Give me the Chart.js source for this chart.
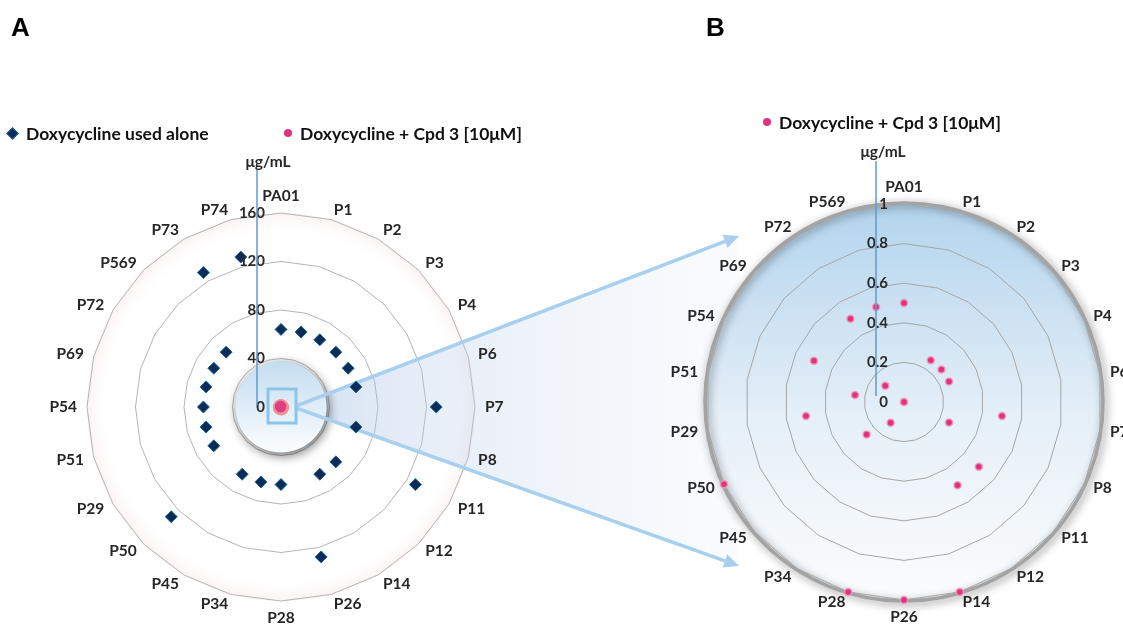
<!DOCTYPE html>
<html>
<head>
<meta charset="utf-8">
<script src="https://cdn.jsdelivr.net/npm/chart.js@4.4.0/dist/chart.umd.min.js"></script>
<style>
  html, body { margin: 0; padding: 0; background: #fff; overflow: hidden; }
  #wrap { position: relative; width: 1123px; height: 628px; }
  canvas { position: absolute; left: 0; top: 0; }
  .panel { position: absolute; font: bold 26px 'Liberation Sans', Arial, sans-serif; color: #000; line-height: 26px; }
  .legend { position: absolute; height: 20px; display: flex; align-items: center; white-space: nowrap;
            font: bold 17.5px Lato, 'Open Sans', sans-serif; color: #111; }
  .diamond { width: 7px; height: 7px; background: #0d2b58; border: 1px solid #1b6d96; transform: rotate(45deg); margin-right: 9px; }
  .dot { width: 8px; height: 8px; border-radius: 50%; background: #e2327f; margin-right: 8px; }
</style>
</head>
<body>
<div id="wrap">
  <canvas id="chartA" width="1123" height="628"></canvas>
  <canvas id="chartB" width="1123" height="628"></canvas>
  <div class="panel" style="left:11px; top:14px;">A</div>
  <div class="panel" style="left:706px; top:14px;">B</div>
  <div class="legend" style="left:8px; top:123px;"><span class="diamond"></span>Doxycycline used alone</div>
  <div class="legend" style="left:284px; top:123px;"><span class="dot"></span>Doxycycline + Cpd 3 [10μM]</div>
  <div class="legend" style="left:763px; top:112px;"><span class="dot"></span>Doxycycline + Cpd 3 [10μM]</div>
</div>
<script>
// strains shown in panel A (24) and panel B (22)
const categoriesA = ['PA01', 'P1', 'P2', 'P3', 'P4', 'P6', 'P7', 'P8', 'P11', 'P12', 'P14', 'P26',
                     'P28', 'P34', 'P45', 'P50', 'P29', 'P51', 'P54', 'P69', 'P72', 'P569', 'P73', 'P74'];
const categoriesB = ['PA01', 'P1', 'P2', 'P3', 'P4', 'P6', 'P7', 'P8', 'P11', 'P12', 'P14', 'P26',
                     'P28', 'P34', 'P45', 'P50', 'P29', 'P51', 'P54', 'P69', 'P72', 'P569'];

// MIC values, ug/mL
const doxyAlone = [64, 64, 64, 64, 64, 64, 128, 64, 128, 64, 64, 128,
                   64, 64, 64, 128, 64, 64, 64, 64, 64, 64, 128, 128];
const doxyCpd3 = [0.5, 0, 0.25, 0.25, 0.25, 0, 0.5, 0.25, 0.5, 0.5, 1, 1,
                  1, 0.125, 0.25, 1, 0.5, 0.25, 0.5, 0.125, 0.5, 0.5];

// axis ticks
const ticksA = [0, 40, 80, 120, 160];
const ticksB = [0, 0.2, 0.4, 0.6, 0.8, 1];

const comboA = categoriesA.map(c => {
    const i = categoriesB.indexOf(c);
    return i < 0 ? null : doxyCpd3[i];
});

const labelFont = 'bold 15.5px Lato, "Open Sans", sans-serif';
const tickFont = 'bold 15px Lato, "Open Sans", sans-serif';

// labels, tick values, blue axis line and unit title
function drawAxisText(chart, cfg) {
    const s = chart.scales.r;
    const ctx = chart.ctx;
    const R = s.drawingArea;
    ctx.save();

    ctx.font = labelFont;
    ctx.fillStyle = '#262626';
    chart.data.labels.forEach((lab, i) => {
        const p = s.getPointPosition(i, R + 10);
        const deg = Math.round(((p.angle * 180 / Math.PI) + 90 + 360) % 360);
        ctx.textAlign = (deg === 0 || deg === 180) ? 'center' : (deg < 180 ? 'left' : 'right');
        ctx.textBaseline = 'middle';
        let y = p.y;
        if (deg === 0) y -= 7;
        if (deg === 180) y += 7;
        ctx.fillText(lab, p.x, y);
    });

    ctx.font = tickFont;
    ctx.fillStyle = '#2a2a2a';
    ctx.textAlign = 'right';
    ctx.textBaseline = 'middle';
    s.ticks.forEach(t => {
        const r = s.getDistanceFromCenterForValue(t.value);
        ctx.fillText(String(Math.round(t.value * 1000) / 1000), s.xCenter - 16, s.yCenter - r);
    });

    const lx = s.xCenter + cfg.lineDx;
    ctx.strokeStyle = '#5b9bd5';
    ctx.lineWidth = 1.5;
    ctx.beginPath();
    ctx.moveTo(lx, s.yCenter - R - 43);
    ctx.lineTo(lx, s.yCenter + cfg.lineEnd);
    ctx.stroke();

    ctx.font = labelFont;
    ctx.fillStyle = '#262626';
    ctx.textAlign = 'center';
    ctx.fillText('μg/mL', s.xCenter + cfg.titleDx, s.yCenter - R - cfg.titleUp);
    ctx.restore();
}

const decorA = {
    id: 'decorA',
    beforeDraw(chart) {
        const s = chart.scales.r, ctx = chart.ctx, R = s.drawingArea;
        // faint glow just inside the outer ring
        const g = ctx.createRadialGradient(s.xCenter, s.yCenter, R * 0.88, s.xCenter, s.yCenter, R);
        g.addColorStop(0, 'rgba(255,255,255,0)');
        g.addColorStop(1, 'rgba(236,216,212,0.3)');
        ctx.save();
        ctx.fillStyle = g;
        ctx.beginPath();
        ctx.arc(s.xCenter, s.yCenter, R, 0, Math.PI * 2);
        ctx.fill();
        ctx.restore();
    },
    beforeDatasetsDraw(chart) {
        const s = chart.scales.r, ctx = chart.ctx, R = s.drawingArea;
        const cx = s.xCenter, cy = s.yCenter;
        ctx.save();
        // zoom call-out towards panel B
        const x0 = cx + 15, tipX = 739, tipUp = 236, tipDown = 566;
        const sh = ctx.createLinearGradient(x0, 0, tipX, 0);
        sh.addColorStop(0, 'rgba(160,188,225,0.45)');
        sh.addColorStop(0.3, 'rgba(180,202,232,0.32)');
        sh.addColorStop(1, 'rgba(210,225,243,0.12)');
        ctx.fillStyle = sh;
        ctx.beginPath();
        ctx.moveTo(x0, cy - 1);
        ctx.lineTo(tipX, tipUp);
        ctx.lineTo(tipX, tipDown);
        ctx.lineTo(x0, cy + 1);
        ctx.closePath();
        ctx.fill();

        // shaded inner disc
        const r0 = R * 0.235;
        const g = ctx.createLinearGradient(0, cy - r0, 0, cy + r0);
        g.addColorStop(0, '#c3ddf0');
        g.addColorStop(1, '#fbfdfe');
        ctx.shadowColor = 'rgba(0,0,0,0.6)';
        ctx.shadowBlur = 11;
        ctx.shadowOffsetX = 2;
        ctx.shadowOffsetY = 3;
        ctx.fillStyle = g;
        ctx.beginPath();
        ctx.arc(cx, cy, r0, 0, Math.PI * 2);
        ctx.fill();
        ctx.shadowColor = 'transparent';

        ctx.strokeStyle = '#a8d0ee';
        ctx.fillStyle = '#a8d0ee';
        ctx.lineWidth = 3.5;
        [[cy - 1, tipUp], [cy + 1, tipDown]].forEach(([ys, ye]) => {
            const a = Math.atan2(ye - ys, tipX - x0);
            const bx = tipX - 15 * Math.cos(a), by = ye - 15 * Math.sin(a);
            ctx.beginPath();
            ctx.moveTo(x0, ys);
            ctx.lineTo(bx, by);
            ctx.stroke();
            ctx.beginPath();
            ctx.moveTo(tipX, ye);
            ctx.lineTo(bx + 7 * Math.sin(a), by - 7 * Math.cos(a));
            ctx.lineTo(bx - 7 * Math.sin(a), by + 7 * Math.cos(a));
            ctx.closePath();
            ctx.fill();
        });

        ctx.strokeStyle = '#8cc4ea';
        ctx.lineWidth = 3;
        ctx.strokeRect(cx - 13, cy - 18, 28, 34);
        ctx.restore();
    },
    afterDraw(chart) {
        drawAxisText(chart, { lineDx: -24, lineEnd: -2, titleDx: -13, titleUp: 51 });
    }
};

const decorB = {
    id: 'decorB',
    beforeDraw(chart) {
        const s = chart.scales.r, ctx = chart.ctx, R = s.drawingArea;
        const cx = s.xCenter, cy = s.yCenter, rc = R + 1;
        ctx.save();
        const g = ctx.createLinearGradient(0, cy - rc, 0, cy + rc);
        g.addColorStop(0, '#b2d4ed');
        g.addColorStop(0.3, '#cfe3f3');
        g.addColorStop(0.55, '#e6f0f8');
        g.addColorStop(1, '#fbfcfd');
        ctx.fillStyle = g;
        ctx.beginPath();
        ctx.arc(cx, cy, rc, 0, Math.PI * 2);
        ctx.fill();
        ctx.shadowColor = 'rgba(0,0,0,0.5)';
        ctx.shadowBlur = 8;
        ctx.shadowOffsetX = 2;
        ctx.shadowOffsetY = 2;
        ctx.strokeStyle = '#a3a3a3';
        ctx.lineWidth = 3.5;
        ctx.stroke();
        ctx.restore();
    },
    afterDraw(chart) {
        drawAxisText(chart, { lineDx: -28, lineEnd: -6, titleDx: -21, titleUp: 52 });
    }
};

function radarOptions(ticks, pad, gridColor) {
    return {
        responsive: false,
        animation: false,
        devicePixelRatio: 1,
        events: [],
        layout: { padding: pad },
        plugins: { legend: { display: false }, tooltip: { enabled: false } },
        scales: {
            r: {
                min: ticks[0],
                max: ticks[ticks.length - 1],
                ticks: { display: false, stepSize: ticks[1] - ticks[0] },
                pointLabels: { display: false },
                angleLines: { display: false },
                grid: { color: gridColor, lineWidth: 1, circular: false }
            }
        }
    };
}

new Chart(document.getElementById('chartA'), {
    type: 'radar',
    data: {
        labels: categoriesA,
        datasets: [
            {
                label: 'Doxycycline used alone',
                data: doxyAlone,
                showLine: false,
                fill: false,
                borderWidth: 0,
                clip: false,
                pointStyle: 'rectRot',
                pointRadius: 6,
                pointBackgroundColor: '#0d2b58',
                pointBorderColor: '#1b6d96',
                pointBorderWidth: 1
            },
            {
                label: 'Doxycycline + Cpd 3 [10μM]',
                data: comboA,
                showLine: false,
                fill: false,
                borderWidth: 0,
                clip: false,
                pointRadius: 6.5,
                pointBackgroundColor: 'rgba(226,60,130,0.85)',
                pointBorderColor: 'rgba(240,150,150,0.8)',
                pointBorderWidth: 1.5
            }
        ]
    },
    options: radarOptions(ticksA, { left: 87, right: 648, top: 213, bottom: 27 }, '#b4b4b4'),
    plugins: [decorA]
});

new Chart(document.getElementById('chartB'), {
    type: 'radar',
    data: {
        labels: categoriesB,
        datasets: [
            {
                label: 'Doxycycline + Cpd 3 [10μM]',
                data: doxyCpd3,
                showLine: false,
                fill: false,
                borderWidth: 0,
                clip: false,
                pointRadius: 3.5,
                pointBackgroundColor: '#e0317f',
                pointBorderColor: 'rgba(242,150,180,0.9)',
                pointBorderWidth: 1.5
            }
        ]
    },
    options: radarOptions(ticksB, { left: 706, right: 21, top: 204, bottom: 28 }, '#a6a6a6'),
    plugins: [decorB]
});
</script>
</body>
</html>
